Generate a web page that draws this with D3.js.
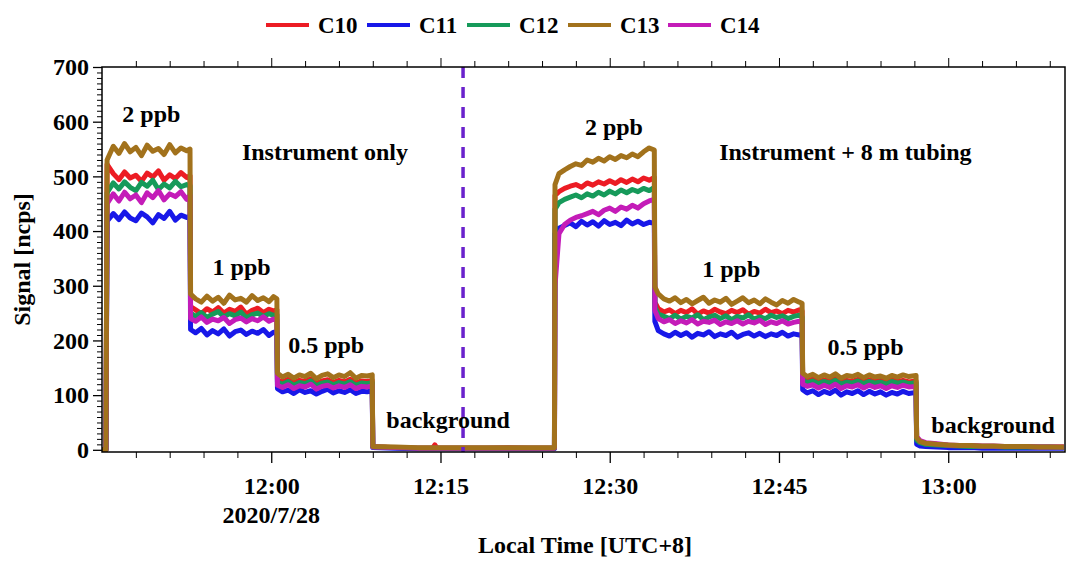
<!DOCTYPE html>
<html>
<head>
<meta charset="utf-8">
<script src="https://cdn.jsdelivr.net/npm/d3@7"></script>
<style>
  html, body { margin: 0; padding: 0; background: #fff; }
  svg { display: block; }
  text { font-family: "Liberation Serif", "Times New Roman", serif; font-weight: bold; fill: #000; }
</style>
</head>
<body>
<svg id="chart" width="1068" height="561"></svg>
<script>
// ---------------- DATA ----------------
// sample times, minutes after 2020/7/28 11:45 local time
const minutes = [
  // 2 ppb, instrument only
  0.0, 0.35, 0.45, 1.0, 1.5, 2.0, 2.5, 3.0, 3.5, 4.0, 4.5, 5.0, 5.5, 6.0, 6.5, 7.0, 7.5, 7.8,
  // 1 ppb
  7.85, 8.3, 8.8, 9.3, 9.8, 10.3, 10.8, 11.3, 11.8, 12.3, 12.8, 13.3, 13.8, 14.3, 14.8, 15.2, 15.5,
  // 0.5 ppb
  15.55, 16.0, 16.5, 17.0, 17.5, 18.0, 18.5, 19.0, 19.5, 20.0, 20.5, 21.0, 21.5, 22.0, 22.5, 23.0, 23.5, 23.95,
  // background
  24.0, 26.0, 28.0, 29.3, 29.5, 29.7, 32.0, 34.0, 36.0, 38.0, 40.1,
  // 2 ppb, instrument + tubing
  40.15, 40.5, 41.0, 41.5, 42.0, 42.5, 43.0, 43.5, 44.0, 44.5, 45.0, 45.5, 46.0, 46.5, 47.0, 47.5, 48.0, 48.5, 48.95,
  // 1 ppb
  49.0, 49.3, 49.8, 50.3, 50.8, 51.3, 51.8, 52.3, 52.8, 53.3, 53.8, 54.3, 54.8, 55.3, 55.8, 56.3, 56.8, 57.3, 57.8, 58.3, 58.8, 59.3, 59.8, 60.3, 60.8, 61.3, 61.8, 62.05,
  // 0.5 ppb
  62.1, 62.5, 63.0, 63.5, 64.0, 64.5, 65.0, 65.5, 66.0, 66.5, 67.0, 67.5, 68.0, 68.5, 69.0, 69.5, 70.0, 70.5, 71.0, 71.5, 72.15,
  // background
  72.2, 72.5, 73.0, 74.0, 75.0, 76.0, 77.0, 78.0, 79.0, 80.0, 81.0, 82.0, 83.0, 84.0, 85.25
];

const c10 = [
  0, 0, 522, 505, 494, 508, 497, 502, 491, 506, 499, 510, 493, 503, 496, 507, 498, 501,
  262, 256, 249, 258, 252, 260, 250, 257, 253, 261, 248, 255, 259, 251, 257, 254, 256,
  128, 124, 129, 122, 127, 125, 130, 121, 126, 128, 123, 127, 124, 129, 122, 126, 125, 127,
  6, 4, 3, 3, 9, 3, 3, 3, 4, 3, 3,
  465, 472, 478, 482, 485, 480, 488, 484, 490, 486, 492, 487, 494, 489, 495, 490, 497, 493, 498,
  270, 258, 252, 256, 249, 255, 251, 258, 248, 254, 250, 257, 252, 249, 255, 251, 256, 248, 253, 250, 257, 251, 254, 249, 255, 252, 256, 254,
  130, 126, 129, 124, 128, 125, 130, 123, 127, 125, 129, 124, 128, 125, 127, 123, 128, 125, 127, 124, 126,
  20, 14, 11, 9, 8, 7, 7, 6, 6, 6, 5, 5, 5, 5, 5
];
const c11 = [
  0, 0, 418, 432, 421, 435, 424, 419, 433, 426, 415, 430, 423, 436, 420, 429, 425, 427,
  220, 214, 222, 210, 218, 212, 221, 208, 216, 219, 211, 217, 213, 220, 209, 215, 214,
  112, 106, 109, 103, 110, 105, 108, 102, 107, 111, 104, 108, 105, 110, 103, 107, 106, 108,
  4, 3, 2, 2, 2, 2, 2, 2, 2, 2, 2,
  395, 405, 410, 415, 408, 418, 411, 417, 409, 419, 412, 416, 410, 420, 413, 418, 412, 416, 414,
  235, 218, 212, 208, 215, 209, 214, 206, 213, 210, 216, 207, 212, 209, 215, 206, 211, 214, 208, 213, 207, 212, 209, 215, 208, 212, 210, 211,
  110, 104, 108, 101, 107, 103, 109, 100, 106, 103, 108, 101, 107, 102, 106, 100, 105, 102, 107, 103, 105,
  10, 7, 6, 5, 4, 4, 4, 3, 3, 3, 3, 3, 3, 3, 3
];
const c12 = [
  0, 0, 470, 488, 477, 490, 480, 474, 489, 482, 493, 476, 486, 479, 491, 481, 485, 483,
  250, 244, 251, 242, 248, 253, 243, 249, 245, 252, 241, 247, 250, 244, 249, 246, 247,
  124, 120, 125, 118, 123, 121, 126, 117, 122, 124, 119, 123, 120, 125, 118, 122, 121, 123,
  5, 4, 3, 3, 3, 3, 3, 3, 3, 3, 3,
  440, 452, 458, 462, 466, 461, 468, 464, 471, 466, 473, 468, 475, 470, 476, 472, 478, 474, 480,
  262, 248, 244, 240, 246, 239, 244, 241, 247, 238, 243, 246, 240, 245, 238, 244, 241, 247, 239, 243, 240, 246, 242, 245, 240, 244, 246, 243,
  127, 123, 126, 121, 125, 122, 127, 120, 124, 122, 126, 121, 125, 122, 124, 120, 125, 122, 124, 121, 123,
  18, 13, 10, 9, 8, 7, 6, 6, 6, 5, 5, 5, 5, 5, 4
];
const c13 = [
  0, 0, 530, 555, 542, 560, 545, 553, 538, 557, 546, 551, 540, 558, 543, 552, 547, 550,
  285, 276, 270, 281, 272, 279, 268, 283, 274, 277, 270, 282, 273, 278, 271, 280, 276,
  140, 133, 138, 131, 137, 134, 140, 130, 136, 139, 132, 137, 134, 141, 131, 136, 135, 137,
  6, 5, 4, 4, 4, 4, 4, 4, 4, 4, 4,
  485, 505, 512, 518, 523, 520, 530, 526, 533, 528, 536, 531, 538, 534, 541, 536, 545, 552, 548,
  298, 285, 276, 272, 278, 269, 275, 267, 273, 279, 268, 274, 270, 277, 266, 272, 278, 269, 274, 267, 276, 270, 265, 273, 268, 275, 270, 268,
  140, 134, 138, 132, 137, 133, 139, 131, 136, 134, 138, 132, 137, 133, 135, 131, 136, 133, 137, 134, 136,
  22, 15, 12, 10, 9, 8, 8, 7, 7, 6, 6, 6, 5, 5, 5
];
const c14 = [
  0, 0, 450, 468, 455, 471, 459, 466, 452, 470, 461, 474, 457, 468, 463, 472, 458, 465,
  240, 235, 243, 233, 239, 236, 242, 231, 238, 241, 234, 240, 236, 243, 235, 239, 237,
  118, 114, 119, 112, 117, 115, 120, 111, 116, 118, 113, 117, 114, 119, 112, 116, 115, 117,
  5, 4, 3, 3, 3, 3, 3, 3, 3, 3, 3,
  300, 395, 412, 420, 425, 428, 432, 436, 430, 438, 442, 436, 444, 440, 447, 442, 450, 455, 458,
  255, 240, 234, 238, 231, 236, 232, 238, 230, 235, 233, 237, 229, 234, 231, 236, 230, 235, 232, 237, 229, 234, 231, 236, 230, 233, 235, 232,
  120, 116, 119, 113, 118, 114, 120, 112, 117, 115, 119, 113, 118, 114, 117, 112, 117, 114, 118, 115, 116,
  24, 17, 13, 11, 9, 8, 8, 7, 7, 6, 6, 6, 5, 5, 5
];

const seriesNames  = ["C10", "C11", "C12", "C13", "C14"];
const seriesValues = [c10, c11, c12, c13, c14];
const seriesColors = ["#ec1c24", "#1818e8", "#169a5a", "#a2721c", "#c41cb8"];
const drawOrder    = [0, 1, 2, 4, 3];

const yTickValues = [0, 100, 200, 300, 400, 500, 600, 700];
const xTickLabels = ["12:00", "12:15", "12:30", "12:45", "13:00"];
const dateLabel   = "2020/7/28";

const annotationTexts = ["2 ppb", "Instrument only", "1 ppb", "0.5 ppb", "background",
                         "2 ppb", "Instrument + 8 m tubing", "1 ppb", "0.5 ppb", "background"];
const switchMinute = 32.0;   // dashed divider at 12:17

// ---------------- LAYOUT ----------------
const W = 1068, H = 561;
const m = { left: 102, right: 3, top: 67, bottom: 109 };
const base = new Date(2020, 6, 28, 11, 45, 0);
const toDate = mm => new Date(base.getTime() + mm * 60000);

const svg = d3.select("#chart");
const x = d3.scaleTime()
  .domain([toDate(0), toDate(85.35)])
  .range([m.left, W - m.right]);
const y = d3.scaleLinear().domain([-4, 700]).range([H - m.bottom, m.top]);

const FS = 24;

// clip
svg.append("clipPath").attr("id", "clip")
  .append("rect").attr("x", m.left).attr("y", m.top)
  .attr("width", W - m.left - m.right).attr("height", H - m.top - m.bottom);

// series
const line = d3.line()
  .x((d, i) => x(toDate(minutes[i])))
  .y(d => y(d));
const g = svg.append("g").attr("clip-path", "url(#clip)");
drawOrder.forEach(k => {
  g.append("path")
    .datum(seriesValues[k])
    .attr("fill", "none")
    .attr("stroke", seriesColors[k])
    .attr("stroke-width", 5)
    .attr("stroke-linejoin", "round")
    .attr("d", line);
});

// dashed divider
svg.append("line")
  .attr("x1", x(toDate(switchMinute))).attr("x2", x(toDate(switchMinute)))
  .attr("y1", m.top).attr("y2", H - m.bottom)
  .attr("stroke", "#6a22cc").attr("stroke-width", 3.5)
  .attr("stroke-dasharray", "11,9");

// frame
svg.append("rect")
  .attr("x", m.left).attr("y", m.top)
  .attr("width", W - m.left - m.right).attr("height", H - m.top - m.bottom)
  .attr("fill", "none").attr("stroke", "#000").attr("stroke-width", 1.5);

// y axis
const yMinor = d3.range(0, 701, 10).filter(v => v % 100 !== 0);
const yAxisG = svg.append("g").attr("transform", `translate(${m.left},0)`)
  .call(d3.axisLeft(y).tickValues(yTickValues).tickSize(9).tickPadding(4).tickFormat(d3.format("d")));
yAxisG.select(".domain").remove();
yAxisG.selectAll("text").style("font-size", FS + "px");
yAxisG.selectAll("line").attr("stroke-width", 1.3);
const yMinorG = svg.append("g").attr("transform", `translate(${m.left},0)`)
  .call(d3.axisLeft(y).tickValues(yMinor).tickSize(5).tickFormat(""));
yMinorG.select(".domain").remove();
yMinorG.selectAll("line").attr("stroke-width", 1);

// x axis
const majorDates = xTickLabels.map(s => {
  const [hh, mn] = s.split(":").map(Number);
  return new Date(2020, 6, 28, hh, mn, 0);
});
const minorDates = d3.timeMinute.every(3).range(toDate(0.5), toDate(85.35))
  .filter(d => d.getMinutes() % 15 !== 0);
const xAxisG = svg.append("g").attr("transform", `translate(0,${H - m.bottom})`)
  .call(d3.axisBottom(x).tickValues(majorDates).tickSize(11).tickPadding(14)
    .tickFormat((d, i) => xTickLabels[i]));
xAxisG.select(".domain").remove();
xAxisG.selectAll("text").style("font-size", FS + "px");
xAxisG.selectAll("line").attr("stroke-width", 1.3);
const xMinorG = svg.append("g").attr("transform", `translate(0,${H - m.bottom})`)
  .call(d3.axisBottom(x).tickValues(minorDates).tickSize(6).tickFormat(""));
xMinorG.select(".domain").remove();
// top mirror ticks
const xTopG = svg.append("g").attr("transform", `translate(0,${m.top})`)
  .call(d3.axisTop(x).tickValues(majorDates).tickSize(9).tickFormat(""));
xTopG.select(".domain").remove();
const xTopMinor = svg.append("g").attr("transform", `translate(0,${m.top})`)
  .call(d3.axisTop(x).tickValues(minorDates).tickSize(6).tickFormat(""));
xTopMinor.select(".domain").remove();

// date label under 12:00
svg.append("text")
  .attr("x", x(majorDates[0])).attr("y", 523)
  .attr("text-anchor", "middle").style("font-size", FS + "px")
  .text(dateLabel);

// axis titles
svg.append("text")
  .attr("x", 585).attr("y", 553)
  .attr("text-anchor", "middle").style("font-size", FS + "px")
  .text("Local Time [UTC+8]");
svg.append("text")
  .attr("transform", `translate(30,${(m.top + H - m.bottom) / 2}) rotate(-90)`)
  .attr("text-anchor", "middle").style("font-size", FS + "px")
  .text("Signal [ncps]");

// annotations (anchor minute, signal value)
const annotationAnchors = [[1.8, 599], [12.4, 530], [9.8, 320], [16.5, 177], [25.2, 40],
                           [42.8, 576], [54.7, 530], [53.2, 316], [64.3, 173], [73.5, 31]];
annotationTexts.forEach((t, i) => {
  svg.append("text")
    .attr("x", x(toDate(annotationAnchors[i][0])))
    .attr("y", y(annotationAnchors[i][1]))
    .style("font-size", FS + "px")
    .text(t);
});

// legend
const legendX = [266, 367, 467, 568, 668];
seriesNames.forEach((n, i) => {
  const lg = svg.append("g").attr("transform", `translate(${legendX[i]},25)`);
  lg.append("line").attr("x1", 0).attr("x2", 43).attr("y1", 0).attr("y2", 0)
    .attr("stroke", seriesColors[i]).attr("stroke-width", 4);
  lg.append("text").attr("x", 52).attr("y", 8)
    .style("font-size", "23px").text(n);
});
</script>
</body>
</html>
